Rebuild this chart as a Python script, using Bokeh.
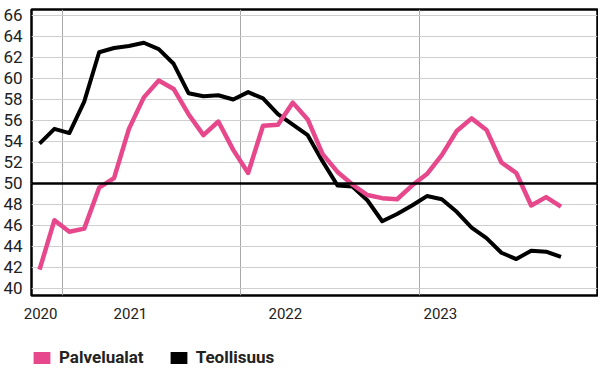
from bokeh.plotting import figure
from bokeh.layouts import column
from bokeh.models import FixedTicker, Range1d, Span, Legend, LegendItem, ColumnDataSource
from bokeh.embed import file_html
from bokeh.resources import INLINE

# Monthly index (0 = first month shown)
months = list(range(36))

palvelualat = [41.8, 46.5, 45.4, 45.7, 49.6, 50.5, 55.2, 58.2, 59.8, 59.0,
               56.6, 54.6, 55.9, 53.2, 51.0, 55.5, 55.6, 57.7, 56.1, 52.8,
               51.1, 49.9, 48.9, 48.6, 48.5, 49.8, 50.9, 52.7, 55.0, 56.2,
               55.1, 52.0, 51.0, 47.9, 48.7, 47.8]

teollisuus = [53.8, 55.2, 54.8, 57.8, 62.5, 62.9, 63.1, 63.4, 62.8, 61.4,
              58.6, 58.3, 58.4, 58.0, 58.7, 58.1, 56.6, 55.6, 54.6, 52.1,
              49.8, 49.7, 48.4, 46.4, 47.1, 47.9, 48.8, 48.5, 47.3, 45.8,
              44.8, 43.4, 42.8, 43.6, 43.5, 43.0]

series_names = ["Palvelualat", "Teollisuus"]
year_labels = ["2020", "2021", "2022", "2023"]
year_label_pos = [0.07, 6.1, 16.5, 26.9]
year_grid_pos = [1.54, 13.5, 25.5]
y_ticks = list(range(40, 67, 2))

PINK = "#e6488b"

src = ColumnDataSource(dict(x=months, p=palvelualat, t=teollisuus))

p = figure(width=598, height=325, output_backend="svg", toolbar_location=None,
           x_range=Range1d(-0.54, 37.45), y_range=Range1d(39.33, 66.57),
           min_border_left=31, min_border_right=1, min_border_top=9,
           min_border_bottom=30)
p.background_fill_color = "white"
p.border_fill_color = "white"
p.outline_line_color = "black"
p.outline_line_width = 2.5

# grids
p.ygrid.ticker = FixedTicker(ticks=y_ticks)
p.ygrid.grid_line_color = "#cfcfcf"
p.ygrid.grid_line_width = 1
p.xgrid.ticker = FixedTicker(ticks=year_grid_pos)
p.xgrid.grid_line_color = "#a8a8a8"
p.xgrid.grid_line_width = 1

# axes
p.yaxis.ticker = FixedTicker(ticks=y_ticks)
p.yaxis.major_label_text_font = "Roboto"
p.yaxis.major_label_text_font_size = "17px"
p.yaxis.major_label_text_color = "#222222"
p.yaxis.major_label_standoff = 3
p.xaxis.ticker = FixedTicker(ticks=year_label_pos)
p.xaxis.major_label_overrides = {pos: lab for pos, lab in zip(year_label_pos, year_labels)}
p.xaxis.major_label_text_font = "Roboto"
p.xaxis.major_label_text_font_size = "15px"
p.xaxis.major_label_text_color = "#222222"
p.xaxis.major_label_standoff = 6
for ax in (p.xaxis[0], p.yaxis[0]):
    ax.axis_line_color = None
    ax.major_tick_line_color = None
    ax.minor_tick_line_color = None

p.add_layout(Span(location=50, dimension="width", line_color="black", line_width=2.5))

p.line("x", "t", source=src, line_color="black", line_width=4, line_join="round")
p.line("x", "p", source=src, line_color=PINK, line_width=4.5, line_join="round")

# legend in a separate strip below the chart
lg = figure(width=598, height=49, output_backend="svg", toolbar_location=None,
            x_range=Range1d(0, 1), y_range=Range1d(0, 1),
            min_border_left=0, min_border_right=0, min_border_top=0, min_border_bottom=0)
lg.axis.visible = False
lg.grid.visible = False
lg.outline_line_color = None
nan = float("nan")
sw_p = lg.quad(left=[nan], right=[nan], top=[nan], bottom=[nan], fill_color=PINK, line_color=None)
sw_t = lg.quad(left=[nan], right=[nan], top=[nan], bottom=[nan], fill_color="black", line_color=None)
legend = Legend(items=[LegendItem(label=series_names[0], renderers=[sw_p]),
                       LegendItem(label=series_names[1], renderers=[sw_t])],
                location=(0, 7), orientation="horizontal",
                glyph_width=21, glyph_height=15, label_height=15,
                label_standoff=7, spacing=24, padding=0, margin=0,
                label_text_font="Roboto", label_text_font_style="bold",
                label_text_font_size="17px", label_text_color="#222222",
                background_fill_alpha=0, border_line_color=None)
lg.add_layout(legend, "center")

layout = column(p, lg, spacing=0)
open("out.html", "w").write(file_html(layout, INLINE))
